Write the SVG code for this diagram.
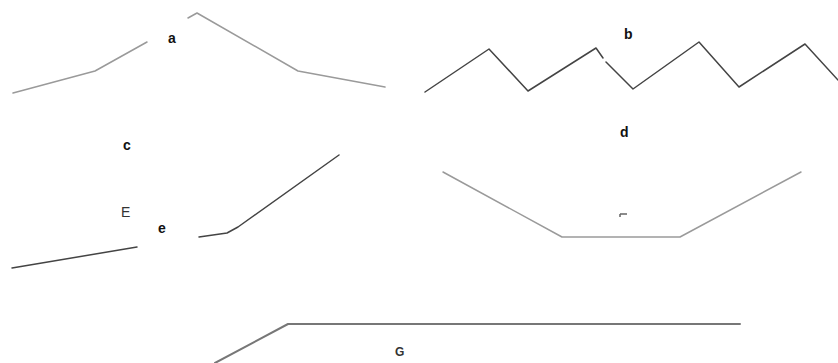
<svg xmlns="http://www.w3.org/2000/svg" width="838" height="363" viewBox="0 0 838 363">
<style>
.lbl{font-family:"Liberation Sans","DejaVu Sans",sans-serif;font-weight:bold;font-size:14px;fill:#111}
.ln{fill:none;stroke-linejoin:round;stroke-linecap:round}
.light{stroke:#9a9a9a;stroke-width:1.5}
.dark{stroke:#444;stroke-width:1.5}
.mid{stroke:#777;stroke-width:2}
</style>
<rect width="838" height="363" fill="#fff"/>
<g id="panel-a">
<polyline class="ln light" points="13,93 95,71 147,42"/>
<polyline class="ln light" points="188,18 197,13 298,71 385,87"/>
<text class="lbl" x="168" y="43">a</text>
</g>
<g id="panel-b">
<polyline class="ln dark" points="425,92 489,49 528,91 596,48 603,58"/>
<polyline class="ln dark" points="606,62 633,89 699,42 739,87 805,44 838,80"/>
<text class="lbl" x="624" y="39">b</text>
</g>
<g id="panel-c">
<polyline class="ln dark" points="12,268 137,247"/>
<polyline class="ln dark" points="199,237 227,233 238,227 339,155"/>
<text class="lbl" x="123" y="150">c</text>
<text class="lbl" x="121" y="217" style="font-weight:normal;fill:#333">E</text>
<text class="lbl" x="158" y="233">e</text>
</g>
<g id="panel-d">
<polyline class="ln light" points="443,172 562,237 680,237 801,172"/>
<path d="M620,214 L627,214 M620,214 L620,217" stroke="#666" stroke-width="1.5" fill="none"/>
<text class="lbl" x="620" y="137">d</text>
</g>
<g id="panel-g">
<polyline class="ln mid" points="215,363 288,324 740,324"/>
<text class="lbl" x="395" y="356" style="font-size:12px;fill:#333">G</text>
</g>
</svg>
